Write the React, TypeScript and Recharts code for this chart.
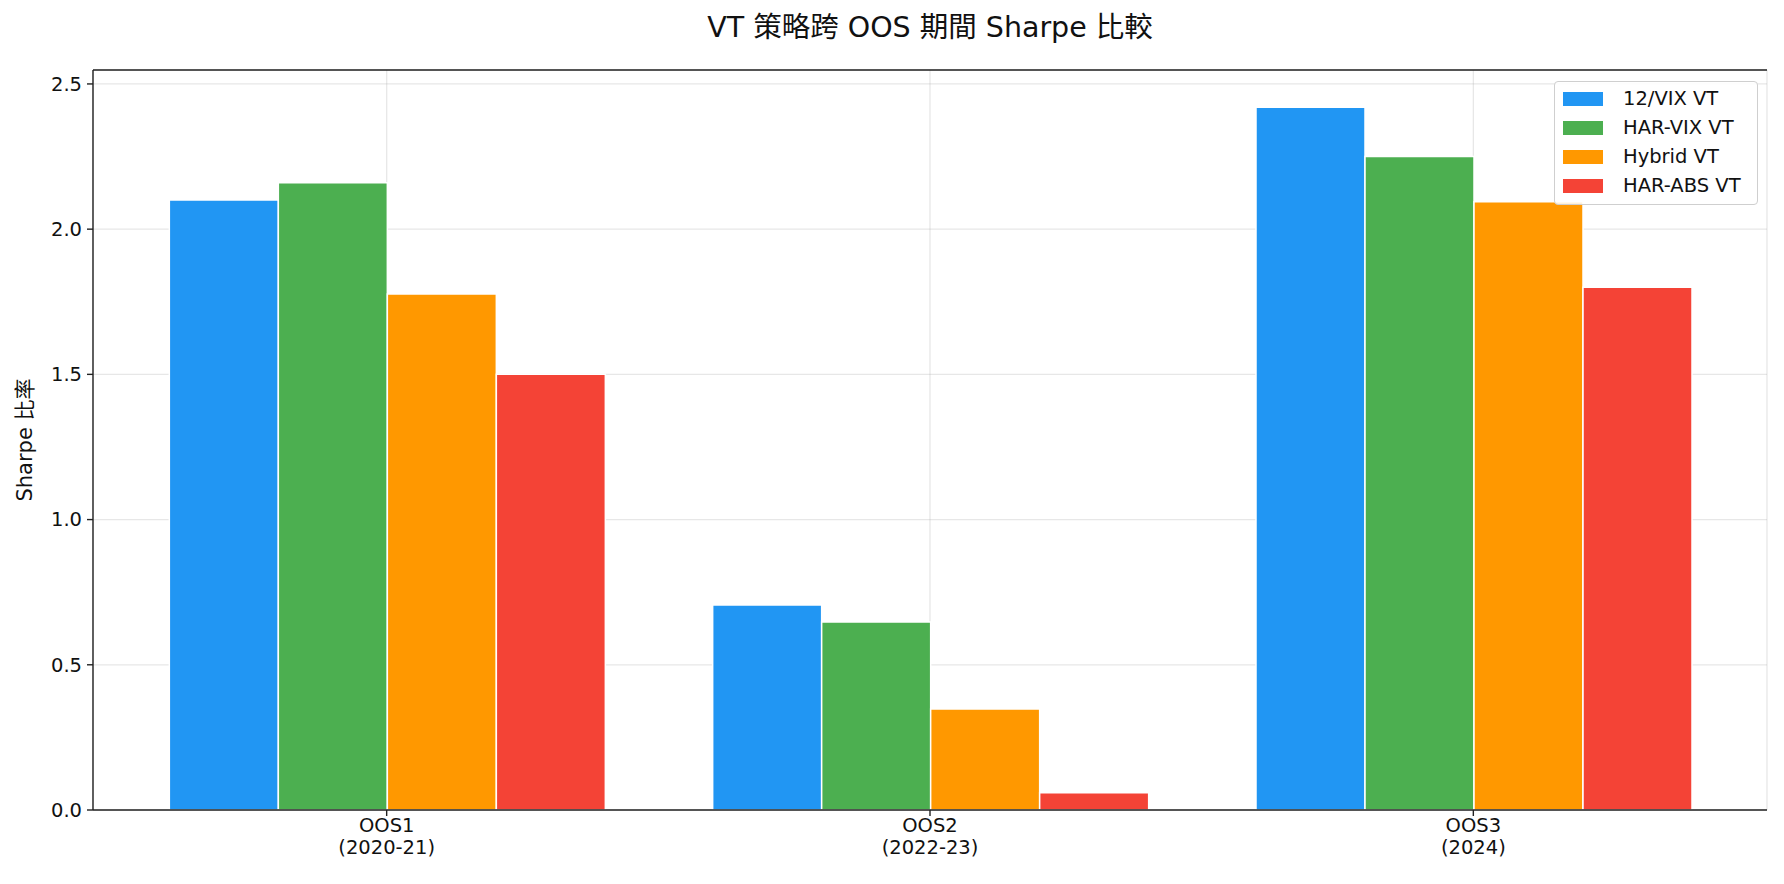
import React from 'react';
import { BarChart, Bar, XAxis, YAxis, CartesianGrid, Legend, ReferenceLine } from 'recharts';

// categories
const periods = ['OOS1', 'OOS2', 'OOS3'];
const periodYears = ['(2020-21)', '(2022-23)', '(2024)'];

// Sharpe per strategy, one value per period
const vix12 = [2.10, 0.706, 2.42];
const harVix = [2.16, 0.647, 2.25];
const hybrid = [1.777, 0.348, 2.094];
const harAbs = [1.50, 0.059, 1.80];

const yTicks = [0, 0.5, 1.0, 1.5, 2.0, 2.5];
const yMax = 2.548;

const series = [
    { key: 'vix12', name: '12/VIX VT', color: '#2196F3', values: vix12 },
    { key: 'harVix', name: 'HAR-VIX VT', color: '#4CAF50', values: harVix },
    { key: 'hybrid', name: 'Hybrid VT', color: '#FF9800', values: hybrid },
    { key: 'harAbs', name: 'HAR-ABS VT', color: '#F44336', values: harAbs },
];

const data = periods.map((p, i) => {
    const row: Record<string, string | number> = { period: p, years: periodYears[i] };
    series.forEach((s) => { row[s.key] = s.values[i]; });
    return row;
});

const FONT = '"DejaVu Sans", "Noto Sans CJK TC", sans-serif';
const INK = '#222';

const PeriodTick = (props: any) => {
    const { x, y, payload } = props;
    const i = periods.indexOf(payload.value);
    return (
        <g transform={`translate(${x},${y})`}>
            <text textAnchor="middle" fill="#111" fontSize={19.5} fontFamily={FONT}>
                <tspan x={0} dy={14}>{payload.value}</tspan>
                <tspan x={0} dy={22}>{periodYears[i]}</tspan>
            </text>
        </g>
    );
};

const LegendBox = () => (
    <div style={{
        width: 204, height: 124, boxSizing: 'border-box', border: '1px solid #cfcfcf', borderRadius: 4,
        background: 'rgba(255,255,255,0.85)', paddingTop: 2,
    }}>
        {series.map((s) => (
            <div key={s.key} style={{ display: 'flex', alignItems: 'center', height: 29 }}>
                <div style={{ width: 40, height: 14, background: s.color, marginLeft: 8, marginRight: 20 }} />
                <span style={{ fontSize: 19.5, fontFamily: FONT, color: '#111', whiteSpace: 'nowrap' }}>{s.name}</span>
            </div>
        ))}
    </div>
);

export default function App() {
    return (
        <div style={{ position: 'absolute', left: 0, top: 0, width: 1784, height: 884, background: '#fff', fontFamily: FONT }}>
            <div style={{ position: 'absolute', top: 9, left: 93, width: 1674, textAlign: 'center', fontSize: 28.5, color: '#111', lineHeight: '38px' }}>
                VT 策略跨 OOS 期間 Sharpe 比較
            </div>
            <BarChart
                width={1784}
                height={884}
                data={data}
                margin={{ top: 70, right: 17, bottom: 0, left: 0 }}
                barCategoryGap="10%"
                barGap={0}
            >
                <XAxis
                    dataKey="period"
                    height={74}
                    padding={{ left: 22, right: 22 }}
                    tick={<PeriodTick />}
                    tickSize={6}
                    stroke={INK}
                    strokeWidth={1.4}
                    interval={0}
                />
                <YAxis
                    width={93}
                    domain={[0, yMax]}
                    ticks={yTicks}
                    tickFormatter={(v: number) => v.toFixed(1)}
                    tickSize={6}
                    tickMargin={5}
                    stroke={INK}
                    strokeWidth={1.4}
                    tick={{ fill: '#111', fontSize: 19.5, fontFamily: FONT }}
                    allowDataOverflow
                    label={{
                        content: () => (
                            <text x={25} y={440} transform="rotate(-90 25 440)" textAnchor="middle" dominantBaseline="central" fontSize={21} fontFamily={FONT} fill="#111">
                                Sharpe 比率
                            </text>
                        ),
                    }}
                />
                <YAxis yAxisId="right" orientation="right" width={0} domain={[0, yMax]} tick={false} tickLine={false} stroke={INK} strokeWidth={1.4} />
                {series.map((s) => (
                    <Bar key={s.key} dataKey={s.key} name={s.name} fill={s.color} stroke="#fff" strokeWidth={1.5} isAnimationActive={false} />
                ))}
                <CartesianGrid stroke="#b0b0b0" strokeOpacity={0.3} strokeWidth={1.3} />
                <ReferenceLine y={yMax} stroke={INK} strokeWidth={1.4} />
                <Legend
                    layout="horizontal"
                    verticalAlign="middle"
                    align="center"
                    content={<LegendBox />}
                    wrapperStyle={{ top: 81, left: 1554, width: 204, height: 124 }}
                />
            </BarChart>
        </div>
    );
}
